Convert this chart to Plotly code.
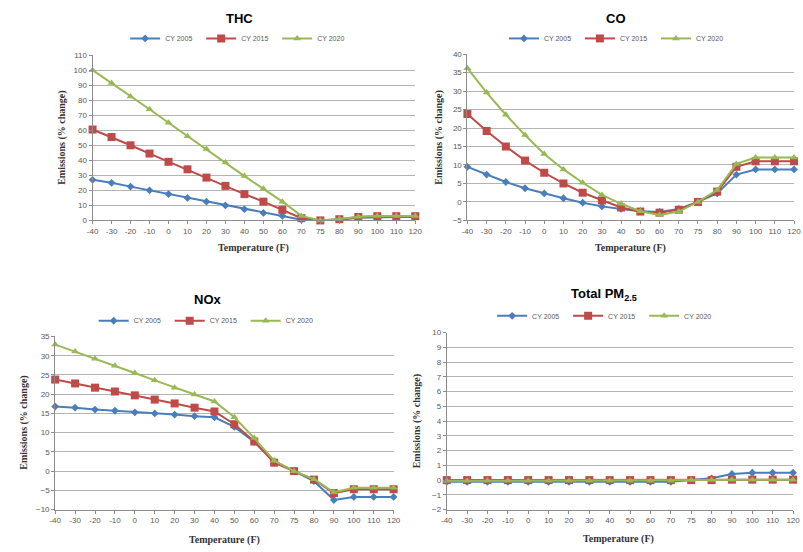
import plotly.graph_objects as go

temps = ["-40", "-30", "-20", "-10", "0", "10", "20", "30", "40", "50", "60", "70", "75", "80", "90", "100", "110", "120"]
series_names = ["CY 2005", "CY 2015", "CY 2020"]

thc_2005 = [27, 25, 22.5, 20, 17.5, 15, 12.5, 10, 7.5, 5, 3, 0.5, 0, 0.5, 1.8, 2.3, 2.3, 2.3]
thc_2015 = [60.5, 55.5, 50, 44.5, 39, 34, 28.5, 23, 17.5, 12.5, 7, 1.5, 0, 0.8, 2.3, 2.8, 2.8, 2.8]
thc_2020 = [100, 91.5, 82.5, 74, 65, 56, 47.5, 38.5, 29.5, 21, 12.5, 3, 0, 1, 2.5, 3, 3, 3]

co_2005 = [9.5, 7.4, 5.4, 3.7, 2.3, 1.0, -0.2, -1.2, -1.9, -2.5, -2.7, -1.9, 0, 2.3, 7.4, 8.8, 8.8, 8.8]
co_2015 = [23.8, 19.2, 15, 11.2, 7.9, 5, 2.5, 0.4, -1.5, -2.6, -2.9, -2.1, 0, 2.8, 9.5, 11, 11, 11]
co_2020 = [36.2, 29.6, 23.6, 18.1, 13.0, 8.8, 5.2, 1.9, -0.5, -2.5, -3.5, -2.6, 0, 3.2, 10.3, 12, 12, 12]

nox_2005 = [16.8, 16.5, 16.0, 15.7, 15.3, 15.0, 14.7, 14.3, 14.0, 11.5, 7.6, 2.6, 0, -2.6, -7.5, -6.7, -6.7, -6.7]
nox_2015 = [23.8, 22.8, 21.7, 20.7, 19.7, 18.6, 17.6, 16.5, 15.5, 12.2, 7.7, 2.2, 0, -2.2, -5.7, -4.7, -4.7, -4.7]
nox_2020 = [32.9, 31.1, 29.2, 27.4, 25.5, 23.6, 21.7, 19.9, 18.1, 14.0, 8.6, 2.7, 0, -2.1, -5.5, -4.3, -4.3, -4.3]

pm_2005 = [-0.12] * 12 + [0, 0.12, 0.42, 0.5, 0.5, 0.5]
pm_2015 = [0] * 12 + [0, 0, 0.03, 0.03, 0.03, 0.03]
pm_2020 = [-0.05] * 12 + [0, 0, 0.03, 0.03, 0.03, 0.03]

colors = ["#4A7EBB", "#BE4B48", "#98B954"]
symbols = ["diamond", "square", "triangle-up"]
msizes = [6, 8, 7]

panels = [
    dict(title="<b>THC</b>", data=[thc_2005, thc_2015, thc_2020], yrange=[0, 110], dtick=10,
         xdom=[88 / 803, 416 / 803], ydom=[1 - 220 / 552, 1 - 52 / 552],
         title_xy=(237, 15), leg_xy=(237, 35), xt_xy=(252, 248), yt_xy=(57, 136)),
    dict(title="<b>CO</b>", data=[co_2005, co_2015, co_2020], yrange=[-5, 40], dtick=5,
         xdom=[469 / 803, 801 / 803], ydom=[1 - 220 / 552, 1 - 51 / 552],
         title_xy=(620, 15), leg_xy=(622, 35), xt_xy=(635, 248), yt_xy=(440, 136)),
    dict(title="<b>NOx</b>", data=[nox_2005, nox_2015, nox_2020], yrange=[-10, 35], dtick=5,
         xdom=[50 / 803, 394 / 803], ydom=[1 - 514 / 552, 1 - 338 / 552],
         title_xy=(205, 300), leg_xy=(205, 322), xt_xy=(222, 545), yt_xy=(18, 426)),
    dict(title="<b>Total PM<sub>2.5</sub></b>", data=[pm_2005, pm_2015, pm_2020], yrange=[-2, 10], dtick=1,
         xdom=[448 / 803, 800 / 803], ydom=[1 - 514 / 552, 1 - 334 / 552],
         title_xy=(608, 295), leg_xy=(610, 317), xt_xy=(623, 544), yt_xy=(418, 424)),
]

W, H = 803, 552
fig = go.Figure()
xidx = list(range(len(temps)))
annotations = []
layout = {}

for i, p in enumerate(panels):
    n = "" if i == 0 else str(i + 1)
    xa, ya = "x" + n, "y" + n
    leg = "legend" + n
    for s in range(3):
        fig.add_trace(go.Scatter(
            x=xidx, y=p["data"][s], name=series_names[s], mode="lines+markers",
            line=dict(color=colors[s], width=2),
            marker=dict(symbol=symbols[s], size=msizes[s], color=colors[s]),
            xaxis=xa, yaxis=ya, legend=leg, showlegend=True, cliponaxis=False,
        ))
    layout["xaxis" + n] = dict(
        domain=p["xdom"], anchor=ya, range=[0, len(temps) - 1],
        tickmode="array", tickvals=xidx, ticktext=temps,
        showgrid=False, zeroline=False, showline=True, linecolor="#8C8C8C", linewidth=1,
        ticks="outside", ticklen=3, tickcolor="#8C8C8C",
        tickfont=dict(family="Liberation Sans", size=8, color="#595959"),
    )
    layout["yaxis" + n] = dict(
        domain=p["ydom"], anchor=xa, range=p["yrange"], dtick=p["dtick"], tick0=0,
        showgrid=True, gridcolor="#B3B3B3", gridwidth=1, zeroline=False,
        showline=True, linecolor="#8C8C8C", linewidth=1,
        ticks="outside", ticklen=3, tickcolor="#8C8C8C",
        tickfont=dict(family="Liberation Sans", size=8, color="#595959"),
    )
    lx, ly = p["leg_xy"]
    layout[leg] = dict(
        x=lx / W, y=1 - ly / H, xanchor="center", yanchor="middle",
        orientation="h", font=dict(family="Liberation Sans", size=7, color="#595959"),
        bgcolor="rgba(0,0,0,0)", itemwidth=30, tracegroupgap=0,
        entrywidth=31, entrywidthmode="pixels",
    )
    tx, ty = p["title_xy"]
    annotations.append(dict(text=p["title"], x=tx / W, y=1 - ty / H, xref="paper", yref="paper",
                            showarrow=False, xanchor="center", yanchor="middle",
                            font=dict(family="Liberation Sans", size=13, color="#000000")))
    xx, xy = p["xt_xy"]
    annotations.append(dict(text="<b>Temperature (F)</b>", x=xx / W, y=1 - xy / H, xref="paper", yref="paper",
                            showarrow=False, xanchor="center", yanchor="middle",
                            font=dict(family="Liberation Serif", size=10, color="#333333")))
    yx, yy = p["yt_xy"]
    annotations.append(dict(text="<b>Emissions (% change)</b>", x=yx / W, y=1 - yy / H, xref="paper", yref="paper",
                            showarrow=False, xanchor="center", yanchor="middle", textangle=-90,
                            font=dict(family="Liberation Serif", size=10, color="#333333")))

fig.update_layout(
    width=W, height=H, margin=dict(l=0, r=0, t=0, b=0),
    paper_bgcolor="white", plot_bgcolor="white",
    annotations=annotations, **layout,
)

fig.write_html("out.html")
